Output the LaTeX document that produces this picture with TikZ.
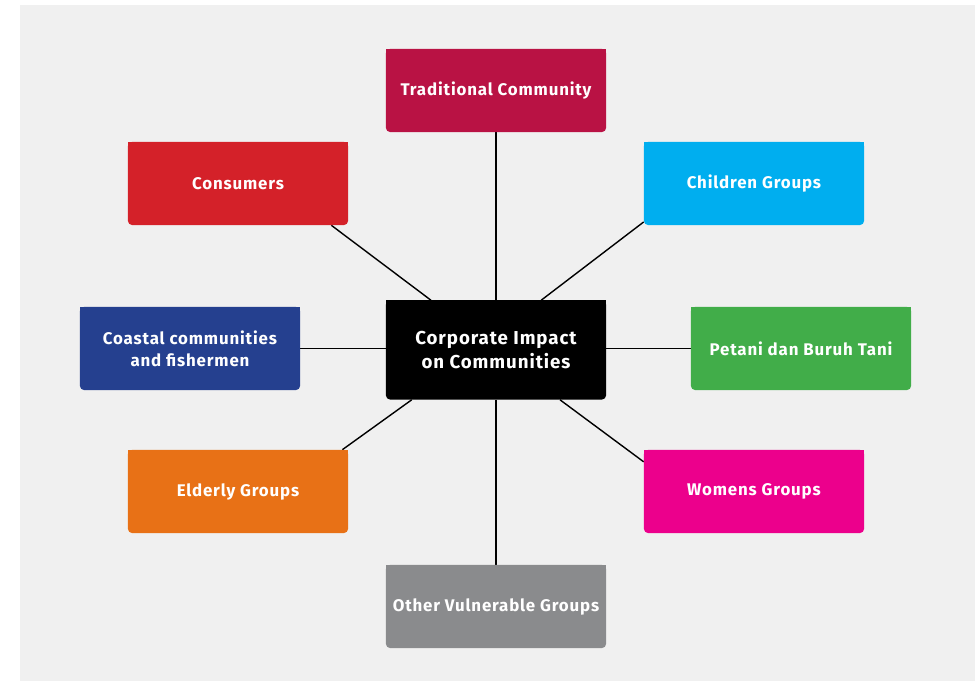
\documentclass[tikz,border=0pt]{standalone}
\usepackage{fontspec}
\setmainfont{Fira Sans}[LetterSpace=5]
\usetikzlibrary{backgrounds,calc}

\definecolor{tradred}{RGB}{185,18,68}
\definecolor{consred}{RGB}{212,33,41}
\definecolor{childblue}{RGB}{0,174,239}
\definecolor{coastblue}{RGB}{37,64,143}
\definecolor{farmgreen}{RGB}{65,173,73}
\definecolor{elderorange}{RGB}{232,113,22}
\definecolor{womenpink}{RGB}{236,0,140}
\definecolor{othergray}{RGB}{138,139,141}
\definecolor{paper}{RGB}{240,240,240}

\begin{document}
\begin{tikzpicture}[x=0.025cm, y=-0.025cm,
    grp/.style={minimum width=5.5cm, minimum height=2.075cm, inner sep=0pt,
      rounded corners=0.1cm, text=white, align=center,
      font=\fontsize{12}{15.5}\selectfont\bfseries},
    link/.style={line width=1pt}, ]
  \useasboundingbox (0,0) rectangle (975,681);
  \node[grp, fill=black, minimum height=2.475cm, font=\fontsize{13.3}{17}\selectfont\bfseries] (hub) at (496,350) {Corporate Impact\\on Communities};
  \node[grp, fill=tradred] (trad) at (496,90.5) {Traditional Community};
  \node[grp, fill=consred] (cons) at (238,183.5) {Consumers};
  \node[grp, fill=childblue] (child) at (754,183.5) {Children Groups};
  \node[grp, fill=coastblue] (coast) at (190,348.5) {Coastal communities\\and fishermen};
  \node[grp, fill=farmgreen] (farm) at (801,348.5) {Petani dan Buruh Tani};
  \node[grp, fill=elderorange] (elder) at (238,491.5) {Elderly Groups};
  \node[grp, fill=womenpink] (women) at (754,491.5) {Womens Groups};
  \node[grp, fill=othergray] (other) at (496,606.5) {Other Vulnerable Groups};

  \begin{scope}[on background layer]
    \fill[paper] (20,5) rectangle (975,681);
    % square off the top corners
    \foreach \n/\c in {hub/black, trad/tradred, cons/consred, child/childblue,
      coast/coastblue, farm/farmgreen, elder/elderorange, women/womenpink, other/othergray}
      \fill[\c] (\n.north west) rectangle (\n.east);
    \draw[link] (hub.north) -- (trad.south);
    \draw[link] ($(hub.north west)!0.205!(hub.north east)$) -- ($(cons.south west)!0.923!(cons.south east)$);
    \draw[link] ($(hub.north west)!0.705!(hub.north east)$) -- ($(child.north west)!0.96!(child.south west)$);
    \draw[link] (coast.east) -- (coast.east -| hub.west);
    \draw[link] (farm.west) -- (farm.west -| hub.east);
    \draw[link] ($(hub.south west)!0.118!(hub.south east)$) -- ($(elder.north west)!0.973!(elder.north east)$);
    \draw[link] ($(hub.south west)!0.79!(hub.south east)$) -- ($(women.north west)!0.145!(women.south west)$);
    \draw[link] (hub.south) -- (other.north);
  \end{scope}
\end{tikzpicture}
\end{document}
